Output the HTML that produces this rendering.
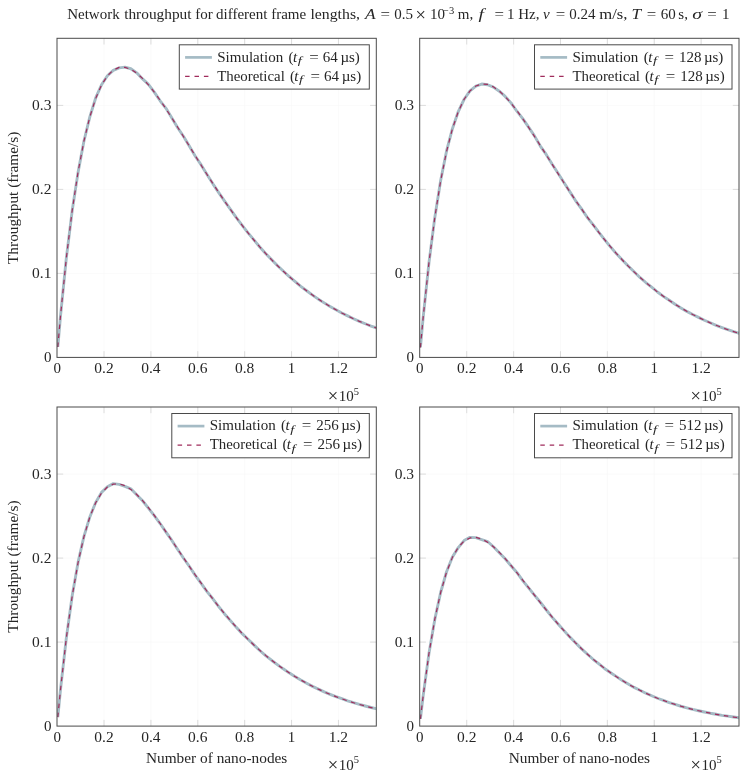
<!DOCTYPE html>
<html><head><meta charset="utf-8"><title>Network throughput</title>
<style>
html,body{margin:0;padding:0;background:#fff;}
body{width:746px;height:776px;overflow:hidden;}
svg{display:block;will-change:transform;}
text{font-family:"Liberation Serif",serif;font-size:15.00px;fill:#262626;}
.i{font-style:italic;}
.s{font-size:10.50px;}
.x{font-size:18.5px;}
</style></head><body>
<svg width="746" height="776" viewBox="0 0 746 776">
<rect width="746" height="776" fill="#fff"/>
<text y="19.40"><tspan x="67.20">Network</tspan> <tspan x="124.20" textLength="67.3" lengthAdjust="spacingAndGlyphs">throughput</tspan> <tspan x="195.20">for</tspan> <tspan x="216.00">different</tspan> <tspan x="271.20">frame</tspan> <tspan x="310.40" textLength="49.6" lengthAdjust="spacingAndGlyphs">lengths,</tspan> <tspan x="365.00" class="i" textLength="10.6" lengthAdjust="spacingAndGlyphs">A</tspan> <tspan x="380.50" textLength="9.5" lengthAdjust="spacingAndGlyphs">=</tspan> <tspan x="394.20">0.5</tspan> <tspan x="430.00">10</tspan> <tspan x="457.80">m,</tspan> <tspan x="494.50" textLength="9.5" lengthAdjust="spacingAndGlyphs">=</tspan> <tspan x="507.00">1</tspan> <tspan x="518.20">Hz,</tspan> <tspan x="543.00" class="i">v</tspan> <tspan x="555.70" textLength="9.5" lengthAdjust="spacingAndGlyphs">=</tspan> <tspan x="569.20">0.24</tspan> <tspan x="599.30" textLength="28.2" lengthAdjust="spacingAndGlyphs">m/s,</tspan> <tspan x="631.60" class="i" textLength="9.6" lengthAdjust="spacingAndGlyphs">T</tspan> <tspan x="646.70" textLength="9.5" lengthAdjust="spacingAndGlyphs">=</tspan> <tspan x="660.80">60</tspan> <tspan x="678.30">s,</tspan> <tspan x="692.30" class="i" textLength="9.8" lengthAdjust="spacingAndGlyphs">σ</tspan> <tspan x="707.20" textLength="9.5" lengthAdjust="spacingAndGlyphs">=</tspan> <tspan x="722.00">1</tspan> </text>
<text x="415.6" y="20.60" class="x">×</text>
<text x="443.0" y="13.80" class="s">−3</text>
<text x="478.4" y="19.40" class="i" textLength="5.4" lengthAdjust="spacingAndGlyphs">f</text>
<g>
<clipPath id="c00"><rect x="57.00" y="38.30" width="319.30" height="319.10"/></clipPath>
<line x1="104.03" y1="38.30" x2="104.03" y2="357.40" stroke="#f6f6f6" stroke-width="0.6"/>
<line x1="150.91" y1="38.30" x2="150.91" y2="357.40" stroke="#f6f6f6" stroke-width="0.6"/>
<line x1="197.79" y1="38.30" x2="197.79" y2="357.40" stroke="#f6f6f6" stroke-width="0.6"/>
<line x1="244.67" y1="38.30" x2="244.67" y2="357.40" stroke="#f6f6f6" stroke-width="0.6"/>
<line x1="291.55" y1="38.30" x2="291.55" y2="357.40" stroke="#f6f6f6" stroke-width="0.6"/>
<line x1="338.43" y1="38.30" x2="338.43" y2="357.40" stroke="#f6f6f6" stroke-width="0.6"/>
<line x1="57.00" y1="273.40" x2="376.30" y2="273.40" stroke="#f6f6f6" stroke-width="0.6"/>
<line x1="57.00" y1="189.40" x2="376.30" y2="189.40" stroke="#f6f6f6" stroke-width="0.6"/>
<line x1="57.00" y1="105.40" x2="376.30" y2="105.40" stroke="#f6f6f6" stroke-width="0.6"/>
<line x1="104.03" y1="357.40" x2="104.03" y2="351.20" stroke="#c6c6c6" stroke-width="0.6"/>
<line x1="104.03" y1="38.30" x2="104.03" y2="44.50" stroke="#c6c6c6" stroke-width="0.6"/>
<line x1="150.91" y1="357.40" x2="150.91" y2="351.20" stroke="#c6c6c6" stroke-width="0.6"/>
<line x1="150.91" y1="38.30" x2="150.91" y2="44.50" stroke="#c6c6c6" stroke-width="0.6"/>
<line x1="197.79" y1="357.40" x2="197.79" y2="351.20" stroke="#c6c6c6" stroke-width="0.6"/>
<line x1="197.79" y1="38.30" x2="197.79" y2="44.50" stroke="#c6c6c6" stroke-width="0.6"/>
<line x1="244.67" y1="357.40" x2="244.67" y2="351.20" stroke="#c6c6c6" stroke-width="0.6"/>
<line x1="244.67" y1="38.30" x2="244.67" y2="44.50" stroke="#c6c6c6" stroke-width="0.6"/>
<line x1="291.55" y1="357.40" x2="291.55" y2="351.20" stroke="#c6c6c6" stroke-width="0.6"/>
<line x1="291.55" y1="38.30" x2="291.55" y2="44.50" stroke="#c6c6c6" stroke-width="0.6"/>
<line x1="338.43" y1="357.40" x2="338.43" y2="351.20" stroke="#c6c6c6" stroke-width="0.6"/>
<line x1="338.43" y1="38.30" x2="338.43" y2="44.50" stroke="#c6c6c6" stroke-width="0.6"/>
<line x1="57.00" y1="273.40" x2="63.20" y2="273.40" stroke="#c6c6c6" stroke-width="0.6"/>
<line x1="376.30" y1="273.40" x2="370.10" y2="273.40" stroke="#c6c6c6" stroke-width="0.6"/>
<line x1="57.00" y1="189.40" x2="63.20" y2="189.40" stroke="#c6c6c6" stroke-width="0.6"/>
<line x1="376.30" y1="189.40" x2="370.10" y2="189.40" stroke="#c6c6c6" stroke-width="0.6"/>
<line x1="57.00" y1="105.40" x2="63.20" y2="105.40" stroke="#c6c6c6" stroke-width="0.6"/>
<line x1="376.30" y1="105.40" x2="370.10" y2="105.40" stroke="#c6c6c6" stroke-width="0.6"/>
<g clip-path="url(#c00)">
<path d="M57.82,346.97 L60.52,315.89 L66.38,257.62 L72.24,210.31 L78.10,172.11 L83.96,140.98 L89.82,116.85 L95.68,97.95 L101.54,84.73 L107.40,75.77 L113.26,70.33 L119.12,67.85 L124.98,67.14 L130.84,68.73 L136.70,72.84 L142.56,78.93 L148.42,84.43 L154.28,92.11 L160.14,100.80 L166.00,108.34 L171.86,118.07 L177.72,127.77 L183.58,136.46 L189.44,146.33 L195.30,156.19 L201.16,164.88 L207.02,174.53 L212.88,183.83 L218.74,192.64 L224.60,201.12 L230.46,209.30 L236.32,217.58 L242.18,225.29 L248.04,232.82 L253.90,239.92 L259.76,247.02 L265.62,253.51 L271.48,259.51 L277.34,265.55 L283.20,271.05 L289.06,276.46 L294.92,281.47 L300.78,286.36 L306.64,290.78 L312.50,295.07 L318.36,299.17 L324.22,302.87 L330.08,306.57 L335.94,309.75 L341.80,313.03 L347.66,315.92 L353.52,318.70 L359.38,321.35 L365.24,323.77 L371.10,326.05 L376.96,328.13 L382.82,330.16" fill="none" stroke="#a5bbc5" stroke-width="2.9" stroke-linejoin="round"/>
<path d="M57.82,346.97 L60.52,315.83 L66.38,257.65 L72.24,210.16 L78.10,171.68 L83.96,140.94 L89.82,116.85 L95.68,98.49 L101.54,85.03 L107.40,75.77 L113.26,70.08 L119.12,67.42 L124.98,67.31 L130.84,69.34 L136.70,73.13 L142.56,78.38 L148.42,84.81 L154.28,92.17 L160.14,100.27 L166.00,108.91 L171.86,117.96 L177.72,127.27 L183.58,136.74 L189.44,146.28 L195.30,155.79 L201.16,165.22 L207.02,174.51 L212.88,183.62 L218.74,192.51 L224.60,201.15 L230.46,209.51 L236.32,217.59 L242.18,225.37 L248.04,232.84 L253.90,240.00 L259.76,246.84 L265.62,253.37 L271.48,259.60 L277.34,265.52 L283.20,271.14 L289.06,276.47 L294.92,281.53 L300.78,286.31 L306.64,290.82 L312.50,295.09 L318.36,299.11 L324.22,302.90 L330.08,306.47 L335.94,309.82 L341.80,312.98 L347.66,315.94 L353.52,318.72 L359.38,321.33 L365.24,323.77 L371.10,326.06 L376.96,328.20 L382.82,330.21" fill="none" stroke="#a02c5c" stroke-width="1.2" stroke-dasharray="4.5 4.5" stroke-linejoin="round"/>
</g>
<rect x="57.00" y="38.30" width="319.30" height="319.10" fill="none" stroke="#4a4a4a" stroke-width="1"/>
<text x="57.15" y="373.30" text-anchor="middle">0</text>
<text x="104.03" y="373.30" text-anchor="middle" textLength="19.4" lengthAdjust="spacingAndGlyphs">0.2</text>
<text x="150.91" y="373.30" text-anchor="middle" textLength="19.4" lengthAdjust="spacingAndGlyphs">0.4</text>
<text x="197.79" y="373.30" text-anchor="middle" textLength="19.4" lengthAdjust="spacingAndGlyphs">0.6</text>
<text x="244.67" y="373.30" text-anchor="middle" textLength="19.4" lengthAdjust="spacingAndGlyphs">0.8</text>
<text x="291.55" y="373.30" text-anchor="middle">1</text>
<text x="338.43" y="373.30" text-anchor="middle" textLength="19.4" lengthAdjust="spacingAndGlyphs">1.2</text>
<text x="51.40" y="362.20" text-anchor="end">0</text>
<text x="51.40" y="278.20" text-anchor="end" textLength="19.4" lengthAdjust="spacingAndGlyphs">0.1</text>
<text x="51.40" y="194.20" text-anchor="end" textLength="19.4" lengthAdjust="spacingAndGlyphs">0.2</text>
<text x="51.40" y="110.20" text-anchor="end" textLength="19.4" lengthAdjust="spacingAndGlyphs">0.3</text>
<text x="327.70" y="402.40" class="x">×</text><text x="338.80" y="400.80">10</text><text x="353.70" y="394.60" class="s">5</text>
<rect x="179.30" y="44.80" width="190.00" height="44.30" fill="#fff" stroke="#4a4a4a" stroke-width="1"/>
<line x1="185.10" y1="57.40" x2="211.90" y2="57.40" stroke="#a5bbc5" stroke-width="2.7"/>
<line x1="185.10" y1="76.40" x2="211.90" y2="76.40" stroke="#a02c5c" stroke-width="1.2" stroke-dasharray="4.5 4.9"/>
<text y="61.70"><tspan x="217.20" textLength="66.0" lengthAdjust="spacingAndGlyphs">Simulation</tspan><tspan x="288.60">(</tspan><tspan x="293.00" class="i">t</tspan><tspan x="309.20" textLength="9.5" lengthAdjust="spacingAndGlyphs">=</tspan><tspan x="322.70">64</tspan><tspan x="340.40">µs)</tspan></text><text x="297.80" y="64.30" class="i s" textLength="4.0" lengthAdjust="spacingAndGlyphs">f</text>
<text y="80.50"><tspan x="217.20" textLength="67.6" lengthAdjust="spacingAndGlyphs">Theoretical</tspan><tspan x="289.90">(</tspan><tspan x="294.30" class="i">t</tspan><tspan x="310.50" textLength="9.5" lengthAdjust="spacingAndGlyphs">=</tspan><tspan x="324.00">64</tspan><tspan x="341.70">µs)</tspan></text><text x="299.10" y="83.10" class="i s" textLength="4.0" lengthAdjust="spacingAndGlyphs">f</text>
<text transform="translate(18.40,197.85) rotate(-90)" text-anchor="middle" textLength="132.3" lengthAdjust="spacingAndGlyphs">Throughput (frame/s)</text>
</g>
<g>
<clipPath id="c01"><rect x="419.70" y="38.30" width="319.30" height="319.10"/></clipPath>
<line x1="466.73" y1="38.30" x2="466.73" y2="357.40" stroke="#f6f6f6" stroke-width="0.6"/>
<line x1="513.61" y1="38.30" x2="513.61" y2="357.40" stroke="#f6f6f6" stroke-width="0.6"/>
<line x1="560.49" y1="38.30" x2="560.49" y2="357.40" stroke="#f6f6f6" stroke-width="0.6"/>
<line x1="607.37" y1="38.30" x2="607.37" y2="357.40" stroke="#f6f6f6" stroke-width="0.6"/>
<line x1="654.25" y1="38.30" x2="654.25" y2="357.40" stroke="#f6f6f6" stroke-width="0.6"/>
<line x1="701.13" y1="38.30" x2="701.13" y2="357.40" stroke="#f6f6f6" stroke-width="0.6"/>
<line x1="419.70" y1="273.40" x2="739.00" y2="273.40" stroke="#f6f6f6" stroke-width="0.6"/>
<line x1="419.70" y1="189.40" x2="739.00" y2="189.40" stroke="#f6f6f6" stroke-width="0.6"/>
<line x1="419.70" y1="105.40" x2="739.00" y2="105.40" stroke="#f6f6f6" stroke-width="0.6"/>
<line x1="466.73" y1="357.40" x2="466.73" y2="351.20" stroke="#c6c6c6" stroke-width="0.6"/>
<line x1="466.73" y1="38.30" x2="466.73" y2="44.50" stroke="#c6c6c6" stroke-width="0.6"/>
<line x1="513.61" y1="357.40" x2="513.61" y2="351.20" stroke="#c6c6c6" stroke-width="0.6"/>
<line x1="513.61" y1="38.30" x2="513.61" y2="44.50" stroke="#c6c6c6" stroke-width="0.6"/>
<line x1="560.49" y1="357.40" x2="560.49" y2="351.20" stroke="#c6c6c6" stroke-width="0.6"/>
<line x1="560.49" y1="38.30" x2="560.49" y2="44.50" stroke="#c6c6c6" stroke-width="0.6"/>
<line x1="607.37" y1="357.40" x2="607.37" y2="351.20" stroke="#c6c6c6" stroke-width="0.6"/>
<line x1="607.37" y1="38.30" x2="607.37" y2="44.50" stroke="#c6c6c6" stroke-width="0.6"/>
<line x1="654.25" y1="357.40" x2="654.25" y2="351.20" stroke="#c6c6c6" stroke-width="0.6"/>
<line x1="654.25" y1="38.30" x2="654.25" y2="44.50" stroke="#c6c6c6" stroke-width="0.6"/>
<line x1="701.13" y1="357.40" x2="701.13" y2="351.20" stroke="#c6c6c6" stroke-width="0.6"/>
<line x1="701.13" y1="38.30" x2="701.13" y2="44.50" stroke="#c6c6c6" stroke-width="0.6"/>
<line x1="419.70" y1="273.40" x2="425.90" y2="273.40" stroke="#c6c6c6" stroke-width="0.6"/>
<line x1="739.00" y1="273.40" x2="732.80" y2="273.40" stroke="#c6c6c6" stroke-width="0.6"/>
<line x1="419.70" y1="189.40" x2="425.90" y2="189.40" stroke="#c6c6c6" stroke-width="0.6"/>
<line x1="739.00" y1="189.40" x2="732.80" y2="189.40" stroke="#c6c6c6" stroke-width="0.6"/>
<line x1="419.70" y1="105.40" x2="425.90" y2="105.40" stroke="#c6c6c6" stroke-width="0.6"/>
<line x1="739.00" y1="105.40" x2="732.80" y2="105.40" stroke="#c6c6c6" stroke-width="0.6"/>
<g clip-path="url(#c01)">
<path d="M420.42,347.48 L423.12,317.94 L428.98,262.59 L434.84,217.18 L440.70,180.34 L446.56,150.95 L452.42,128.70 L458.28,111.51 L464.14,99.25 L470.00,90.84 L475.86,86.03 L481.72,84.01 L487.58,84.76 L493.44,87.16 L499.30,91.18 L505.16,96.44 L511.02,102.87 L516.88,111.22 L522.74,118.56 L528.60,127.06 L534.46,135.87 L540.32,146.06 L546.18,154.44 L552.04,163.96 L557.90,172.98 L563.76,182.27 L569.62,191.39 L575.48,200.54 L581.34,208.61 L587.20,217.31 L593.06,224.59 L598.92,232.46 L604.78,239.82 L610.64,247.06 L616.50,253.85 L622.36,259.91 L628.22,266.04 L634.08,271.74 L639.94,277.43 L645.80,282.53 L651.66,287.20 L657.52,292.00 L663.38,296.41 L669.24,300.27 L675.10,304.25 L680.96,307.95 L686.82,311.38 L692.68,314.47 L698.54,317.34 L704.40,320.22 L710.26,322.79 L716.12,325.31 L721.98,327.52 L727.84,329.65 L733.70,331.69 L739.56,333.49 L745.42,335.29" fill="none" stroke="#a5bbc5" stroke-width="2.9" stroke-linejoin="round"/>
<path d="M420.42,347.48 L423.12,317.84 L428.98,262.41 L434.84,217.16 L440.70,180.58 L446.56,151.47 L452.42,128.78 L458.28,111.63 L464.14,99.22 L470.00,90.87 L475.86,85.95 L481.72,83.95 L487.58,84.39 L493.44,86.87 L499.30,91.02 L505.16,96.53 L511.02,103.15 L516.88,110.62 L522.74,118.76 L528.60,127.39 L534.46,136.36 L540.32,145.54 L546.18,154.83 L552.04,164.14 L557.90,173.39 L563.76,182.52 L569.62,191.48 L575.48,200.23 L581.34,208.73 L587.20,216.97 L593.06,224.91 L598.92,232.56 L604.78,239.89 L610.64,246.91 L616.50,253.62 L622.36,260.00 L628.22,266.07 L634.08,271.84 L639.94,277.30 L645.80,282.47 L651.66,287.36 L657.52,291.97 L663.38,296.32 L669.24,300.41 L675.10,304.26 L680.96,307.87 L686.82,311.27 L692.68,314.45 L698.54,317.43 L704.40,320.23 L710.26,322.84 L716.12,325.28 L721.98,327.57 L727.84,329.70 L733.70,331.69 L739.56,333.54 L745.42,335.27" fill="none" stroke="#a02c5c" stroke-width="1.2" stroke-dasharray="4.5 4.5" stroke-linejoin="round"/>
</g>
<rect x="419.70" y="38.30" width="319.30" height="319.10" fill="none" stroke="#4a4a4a" stroke-width="1"/>
<text x="419.85" y="373.30" text-anchor="middle">0</text>
<text x="466.73" y="373.30" text-anchor="middle" textLength="19.4" lengthAdjust="spacingAndGlyphs">0.2</text>
<text x="513.61" y="373.30" text-anchor="middle" textLength="19.4" lengthAdjust="spacingAndGlyphs">0.4</text>
<text x="560.49" y="373.30" text-anchor="middle" textLength="19.4" lengthAdjust="spacingAndGlyphs">0.6</text>
<text x="607.37" y="373.30" text-anchor="middle" textLength="19.4" lengthAdjust="spacingAndGlyphs">0.8</text>
<text x="654.25" y="373.30" text-anchor="middle">1</text>
<text x="701.13" y="373.30" text-anchor="middle" textLength="19.4" lengthAdjust="spacingAndGlyphs">1.2</text>
<text x="414.10" y="362.20" text-anchor="end">0</text>
<text x="414.10" y="278.20" text-anchor="end" textLength="19.4" lengthAdjust="spacingAndGlyphs">0.1</text>
<text x="414.10" y="194.20" text-anchor="end" textLength="19.4" lengthAdjust="spacingAndGlyphs">0.2</text>
<text x="414.10" y="110.20" text-anchor="end" textLength="19.4" lengthAdjust="spacingAndGlyphs">0.3</text>
<text x="690.40" y="402.40" class="x">×</text><text x="701.50" y="400.80">10</text><text x="716.40" y="394.60" class="s">5</text>
<rect x="534.50" y="44.80" width="197.50" height="44.30" fill="#fff" stroke="#4a4a4a" stroke-width="1"/>
<line x1="540.30" y1="57.40" x2="567.10" y2="57.40" stroke="#a5bbc5" stroke-width="2.7"/>
<line x1="540.30" y1="76.40" x2="567.10" y2="76.40" stroke="#a02c5c" stroke-width="1.2" stroke-dasharray="4.5 4.9"/>
<text y="61.70"><tspan x="572.40" textLength="66.0" lengthAdjust="spacingAndGlyphs">Simulation</tspan><tspan x="643.80">(</tspan><tspan x="648.20" class="i">t</tspan><tspan x="664.40" textLength="9.5" lengthAdjust="spacingAndGlyphs">=</tspan><tspan x="678.90">128</tspan><tspan x="703.90">µs)</tspan></text><text x="653.00" y="64.30" class="i s" textLength="4.0" lengthAdjust="spacingAndGlyphs">f</text>
<text y="80.50"><tspan x="572.40" textLength="67.6" lengthAdjust="spacingAndGlyphs">Theoretical</tspan><tspan x="645.10">(</tspan><tspan x="649.50" class="i">t</tspan><tspan x="665.70" textLength="9.5" lengthAdjust="spacingAndGlyphs">=</tspan><tspan x="680.20">128</tspan><tspan x="705.20">µs)</tspan></text><text x="654.30" y="83.10" class="i s" textLength="4.0" lengthAdjust="spacingAndGlyphs">f</text>
</g>
<g>
<clipPath id="c10"><rect x="57.00" y="407.00" width="319.30" height="319.10"/></clipPath>
<line x1="104.03" y1="407.00" x2="104.03" y2="726.10" stroke="#f6f6f6" stroke-width="0.6"/>
<line x1="150.91" y1="407.00" x2="150.91" y2="726.10" stroke="#f6f6f6" stroke-width="0.6"/>
<line x1="197.79" y1="407.00" x2="197.79" y2="726.10" stroke="#f6f6f6" stroke-width="0.6"/>
<line x1="244.67" y1="407.00" x2="244.67" y2="726.10" stroke="#f6f6f6" stroke-width="0.6"/>
<line x1="291.55" y1="407.00" x2="291.55" y2="726.10" stroke="#f6f6f6" stroke-width="0.6"/>
<line x1="338.43" y1="407.00" x2="338.43" y2="726.10" stroke="#f6f6f6" stroke-width="0.6"/>
<line x1="57.00" y1="642.10" x2="376.30" y2="642.10" stroke="#f6f6f6" stroke-width="0.6"/>
<line x1="57.00" y1="558.10" x2="376.30" y2="558.10" stroke="#f6f6f6" stroke-width="0.6"/>
<line x1="57.00" y1="474.10" x2="376.30" y2="474.10" stroke="#f6f6f6" stroke-width="0.6"/>
<line x1="104.03" y1="726.10" x2="104.03" y2="719.90" stroke="#c6c6c6" stroke-width="0.6"/>
<line x1="104.03" y1="407.00" x2="104.03" y2="413.20" stroke="#c6c6c6" stroke-width="0.6"/>
<line x1="150.91" y1="726.10" x2="150.91" y2="719.90" stroke="#c6c6c6" stroke-width="0.6"/>
<line x1="150.91" y1="407.00" x2="150.91" y2="413.20" stroke="#c6c6c6" stroke-width="0.6"/>
<line x1="197.79" y1="726.10" x2="197.79" y2="719.90" stroke="#c6c6c6" stroke-width="0.6"/>
<line x1="197.79" y1="407.00" x2="197.79" y2="413.20" stroke="#c6c6c6" stroke-width="0.6"/>
<line x1="244.67" y1="726.10" x2="244.67" y2="719.90" stroke="#c6c6c6" stroke-width="0.6"/>
<line x1="244.67" y1="407.00" x2="244.67" y2="413.20" stroke="#c6c6c6" stroke-width="0.6"/>
<line x1="291.55" y1="726.10" x2="291.55" y2="719.90" stroke="#c6c6c6" stroke-width="0.6"/>
<line x1="291.55" y1="407.00" x2="291.55" y2="413.20" stroke="#c6c6c6" stroke-width="0.6"/>
<line x1="338.43" y1="726.10" x2="338.43" y2="719.90" stroke="#c6c6c6" stroke-width="0.6"/>
<line x1="338.43" y1="407.00" x2="338.43" y2="413.20" stroke="#c6c6c6" stroke-width="0.6"/>
<line x1="57.00" y1="642.10" x2="63.20" y2="642.10" stroke="#c6c6c6" stroke-width="0.6"/>
<line x1="376.30" y1="642.10" x2="370.10" y2="642.10" stroke="#c6c6c6" stroke-width="0.6"/>
<line x1="57.00" y1="558.10" x2="63.20" y2="558.10" stroke="#c6c6c6" stroke-width="0.6"/>
<line x1="376.30" y1="558.10" x2="370.10" y2="558.10" stroke="#c6c6c6" stroke-width="0.6"/>
<line x1="57.00" y1="474.10" x2="63.20" y2="474.10" stroke="#c6c6c6" stroke-width="0.6"/>
<line x1="376.30" y1="474.10" x2="370.10" y2="474.10" stroke="#c6c6c6" stroke-width="0.6"/>
<g clip-path="url(#c10)">
<path d="M57.82,717.11 L60.52,689.47 L66.38,637.58 L72.24,595.45 L78.10,562.15 L83.96,536.31 L89.82,516.92 L95.68,502.42 L101.54,492.40 L107.40,486.74 L113.26,483.64 L119.12,484.39 L124.98,486.39 L130.84,488.79 L136.70,494.75 L142.56,500.75 L148.42,508.18 L154.28,515.55 L160.14,523.54 L166.00,532.15 L171.86,540.43 L177.72,549.44 L183.58,558.24 L189.44,566.49 L195.30,575.35 L201.16,583.47 L207.02,591.62 L212.88,598.77 L218.74,606.51 L224.60,613.97 L230.46,620.65 L236.32,627.34 L242.18,633.64 L248.04,639.18 L253.90,644.86 L259.76,650.48 L265.62,655.53 L271.48,660.22 L277.34,664.56 L283.20,668.82 L289.06,672.83 L294.92,676.51 L300.78,679.99 L306.64,683.25 L312.50,686.40 L318.36,689.11 L324.22,691.88 L330.08,694.37 L335.94,696.72 L341.80,698.74 L347.66,700.85 L353.52,702.72 L359.38,704.44 L365.24,706.01 L371.10,707.51 L376.96,708.93 L382.82,710.28" fill="none" stroke="#a5bbc5" stroke-width="2.9" stroke-linejoin="round"/>
<path d="M57.82,717.11 L60.52,689.47 L66.38,637.58 L72.24,595.73 L78.10,562.49 L83.96,536.62 L89.82,517.02 L95.68,502.74 L101.54,492.96 L107.40,486.96 L113.26,484.10 L119.12,483.86 L124.98,485.77 L130.84,489.42 L136.70,494.48 L142.56,500.65 L148.42,507.68 L154.28,515.35 L160.14,523.48 L166.00,531.93 L171.86,540.55 L177.72,549.25 L183.58,557.93 L189.44,566.52 L195.30,574.97 L201.16,583.22 L207.02,591.25 L212.88,599.01 L218.74,606.49 L224.60,613.68 L230.46,620.56 L236.32,627.13 L242.18,633.39 L248.04,639.34 L253.90,644.98 L259.76,650.32 L265.62,655.37 L271.48,660.13 L277.34,664.61 L283.20,668.83 L289.06,672.79 L294.92,676.51 L300.78,680.00 L306.64,683.26 L312.50,686.32 L318.36,689.17 L324.22,691.84 L330.08,694.33 L335.94,696.65 L341.80,698.81 L347.66,700.82 L353.52,702.70 L359.38,704.44 L365.24,706.06 L371.10,707.56 L376.96,708.96 L382.82,710.25" fill="none" stroke="#a02c5c" stroke-width="1.2" stroke-dasharray="4.5 4.5" stroke-linejoin="round"/>
</g>
<rect x="57.00" y="407.00" width="319.30" height="319.10" fill="none" stroke="#4a4a4a" stroke-width="1"/>
<text x="57.15" y="742.00" text-anchor="middle">0</text>
<text x="104.03" y="742.00" text-anchor="middle" textLength="19.4" lengthAdjust="spacingAndGlyphs">0.2</text>
<text x="150.91" y="742.00" text-anchor="middle" textLength="19.4" lengthAdjust="spacingAndGlyphs">0.4</text>
<text x="197.79" y="742.00" text-anchor="middle" textLength="19.4" lengthAdjust="spacingAndGlyphs">0.6</text>
<text x="244.67" y="742.00" text-anchor="middle" textLength="19.4" lengthAdjust="spacingAndGlyphs">0.8</text>
<text x="291.55" y="742.00" text-anchor="middle">1</text>
<text x="338.43" y="742.00" text-anchor="middle" textLength="19.4" lengthAdjust="spacingAndGlyphs">1.2</text>
<text x="51.40" y="730.90" text-anchor="end">0</text>
<text x="51.40" y="646.90" text-anchor="end" textLength="19.4" lengthAdjust="spacingAndGlyphs">0.1</text>
<text x="51.40" y="562.90" text-anchor="end" textLength="19.4" lengthAdjust="spacingAndGlyphs">0.2</text>
<text x="51.40" y="478.90" text-anchor="end" textLength="19.4" lengthAdjust="spacingAndGlyphs">0.3</text>
<text x="327.70" y="771.10" class="x">×</text><text x="338.80" y="769.50">10</text><text x="353.70" y="763.30" class="s">5</text>
<rect x="171.80" y="413.50" width="197.50" height="44.30" fill="#fff" stroke="#4a4a4a" stroke-width="1"/>
<line x1="177.60" y1="426.10" x2="204.40" y2="426.10" stroke="#a5bbc5" stroke-width="2.7"/>
<line x1="177.60" y1="445.10" x2="204.40" y2="445.10" stroke="#a02c5c" stroke-width="1.2" stroke-dasharray="4.5 4.9"/>
<text y="430.40"><tspan x="209.70" textLength="66.0" lengthAdjust="spacingAndGlyphs">Simulation</tspan><tspan x="281.10">(</tspan><tspan x="285.50" class="i">t</tspan><tspan x="301.70" textLength="9.5" lengthAdjust="spacingAndGlyphs">=</tspan><tspan x="316.20">256</tspan><tspan x="341.20">µs)</tspan></text><text x="290.30" y="433.00" class="i s" textLength="4.0" lengthAdjust="spacingAndGlyphs">f</text>
<text y="449.20"><tspan x="209.70" textLength="67.6" lengthAdjust="spacingAndGlyphs">Theoretical</tspan><tspan x="282.40">(</tspan><tspan x="286.80" class="i">t</tspan><tspan x="303.00" textLength="9.5" lengthAdjust="spacingAndGlyphs">=</tspan><tspan x="317.50">256</tspan><tspan x="342.50">µs)</tspan></text><text x="291.60" y="451.80" class="i s" textLength="4.0" lengthAdjust="spacingAndGlyphs">f</text>
<text transform="translate(18.40,566.55) rotate(-90)" text-anchor="middle" textLength="132.3" lengthAdjust="spacingAndGlyphs">Throughput (frame/s)</text>
<text x="216.65" y="762.90" text-anchor="middle" textLength="141.4" lengthAdjust="spacingAndGlyphs">Number of nano-nodes</text>
</g>
<g>
<clipPath id="c11"><rect x="419.70" y="407.00" width="319.30" height="319.10"/></clipPath>
<line x1="466.73" y1="407.00" x2="466.73" y2="726.10" stroke="#f6f6f6" stroke-width="0.6"/>
<line x1="513.61" y1="407.00" x2="513.61" y2="726.10" stroke="#f6f6f6" stroke-width="0.6"/>
<line x1="560.49" y1="407.00" x2="560.49" y2="726.10" stroke="#f6f6f6" stroke-width="0.6"/>
<line x1="607.37" y1="407.00" x2="607.37" y2="726.10" stroke="#f6f6f6" stroke-width="0.6"/>
<line x1="654.25" y1="407.00" x2="654.25" y2="726.10" stroke="#f6f6f6" stroke-width="0.6"/>
<line x1="701.13" y1="407.00" x2="701.13" y2="726.10" stroke="#f6f6f6" stroke-width="0.6"/>
<line x1="419.70" y1="642.10" x2="739.00" y2="642.10" stroke="#f6f6f6" stroke-width="0.6"/>
<line x1="419.70" y1="558.10" x2="739.00" y2="558.10" stroke="#f6f6f6" stroke-width="0.6"/>
<line x1="419.70" y1="474.10" x2="739.00" y2="474.10" stroke="#f6f6f6" stroke-width="0.6"/>
<line x1="466.73" y1="726.10" x2="466.73" y2="719.90" stroke="#c6c6c6" stroke-width="0.6"/>
<line x1="466.73" y1="407.00" x2="466.73" y2="413.20" stroke="#c6c6c6" stroke-width="0.6"/>
<line x1="513.61" y1="726.10" x2="513.61" y2="719.90" stroke="#c6c6c6" stroke-width="0.6"/>
<line x1="513.61" y1="407.00" x2="513.61" y2="413.20" stroke="#c6c6c6" stroke-width="0.6"/>
<line x1="560.49" y1="726.10" x2="560.49" y2="719.90" stroke="#c6c6c6" stroke-width="0.6"/>
<line x1="560.49" y1="407.00" x2="560.49" y2="413.20" stroke="#c6c6c6" stroke-width="0.6"/>
<line x1="607.37" y1="726.10" x2="607.37" y2="719.90" stroke="#c6c6c6" stroke-width="0.6"/>
<line x1="607.37" y1="407.00" x2="607.37" y2="413.20" stroke="#c6c6c6" stroke-width="0.6"/>
<line x1="654.25" y1="726.10" x2="654.25" y2="719.90" stroke="#c6c6c6" stroke-width="0.6"/>
<line x1="654.25" y1="407.00" x2="654.25" y2="413.20" stroke="#c6c6c6" stroke-width="0.6"/>
<line x1="701.13" y1="726.10" x2="701.13" y2="719.90" stroke="#c6c6c6" stroke-width="0.6"/>
<line x1="701.13" y1="407.00" x2="701.13" y2="413.20" stroke="#c6c6c6" stroke-width="0.6"/>
<line x1="419.70" y1="642.10" x2="425.90" y2="642.10" stroke="#c6c6c6" stroke-width="0.6"/>
<line x1="739.00" y1="642.10" x2="732.80" y2="642.10" stroke="#c6c6c6" stroke-width="0.6"/>
<line x1="419.70" y1="558.10" x2="425.90" y2="558.10" stroke="#c6c6c6" stroke-width="0.6"/>
<line x1="739.00" y1="558.10" x2="732.80" y2="558.10" stroke="#c6c6c6" stroke-width="0.6"/>
<line x1="419.70" y1="474.10" x2="425.90" y2="474.10" stroke="#c6c6c6" stroke-width="0.6"/>
<line x1="739.00" y1="474.10" x2="732.80" y2="474.10" stroke="#c6c6c6" stroke-width="0.6"/>
<g clip-path="url(#c11)">
<path d="M420.42,718.93 L423.12,696.11 L428.98,653.34 L434.84,619.17 L440.70,592.27 L446.56,571.77 L452.42,557.00 L458.28,547.63 L464.14,540.57 L470.00,537.34 L475.86,537.65 L481.72,539.59 L487.58,541.52 L493.44,546.76 L499.30,552.70 L505.16,558.75 L511.02,565.72 L516.88,572.43 L522.74,580.54 L528.60,587.83 L534.46,595.17 L540.32,602.24 L546.18,609.75 L552.04,617.10 L557.90,623.78 L563.76,630.39 L569.62,636.85 L575.48,642.82 L581.34,648.64 L587.20,654.05 L593.06,659.29 L598.92,663.99 L604.78,668.71 L610.64,672.74 L616.50,676.67 L622.36,680.49 L628.22,683.94 L634.08,687.41 L639.94,690.22 L645.80,693.19 L651.66,695.78 L657.52,698.26 L663.38,700.38 L669.24,702.58 L675.10,704.42 L680.96,706.25 L686.82,707.82 L692.68,709.41 L698.54,710.73 L704.40,712.00 L710.26,713.20 L716.12,714.26 L721.98,715.32 L727.84,716.18 L733.70,717.04 L739.56,717.85 L745.42,718.55" fill="none" stroke="#a5bbc5" stroke-width="2.9" stroke-linejoin="round"/>
<path d="M420.42,718.93 L423.12,696.22 L428.98,653.27 L434.84,618.97 L440.70,592.28 L446.56,572.08 L452.42,557.38 L458.28,547.28 L464.14,541.02 L470.00,537.92 L475.86,537.39 L481.72,538.96 L487.58,542.20 L493.44,546.74 L499.30,552.30 L505.16,558.61 L511.02,565.45 L516.88,572.66 L522.74,580.09 L528.60,587.61 L534.46,595.13 L540.32,602.57 L546.18,609.86 L552.04,616.96 L557.90,623.83 L563.76,630.44 L569.62,636.77 L575.48,642.81 L581.34,648.55 L587.20,653.99 L593.06,659.13 L598.92,663.98 L604.78,668.54 L610.64,672.81 L616.50,676.82 L622.36,680.56 L628.22,684.06 L634.08,687.31 L639.94,690.34 L645.80,693.16 L651.66,695.77 L657.52,698.20 L663.38,700.44 L669.24,702.52 L675.10,704.44 L680.96,706.21 L686.82,707.85 L692.68,709.36 L698.54,710.75 L704.40,712.03 L710.26,713.21 L716.12,714.30 L721.98,715.29 L727.84,716.21 L733.70,717.05 L739.56,717.82 L745.42,718.53" fill="none" stroke="#a02c5c" stroke-width="1.2" stroke-dasharray="4.5 4.5" stroke-linejoin="round"/>
</g>
<rect x="419.70" y="407.00" width="319.30" height="319.10" fill="none" stroke="#4a4a4a" stroke-width="1"/>
<text x="419.85" y="742.00" text-anchor="middle">0</text>
<text x="466.73" y="742.00" text-anchor="middle" textLength="19.4" lengthAdjust="spacingAndGlyphs">0.2</text>
<text x="513.61" y="742.00" text-anchor="middle" textLength="19.4" lengthAdjust="spacingAndGlyphs">0.4</text>
<text x="560.49" y="742.00" text-anchor="middle" textLength="19.4" lengthAdjust="spacingAndGlyphs">0.6</text>
<text x="607.37" y="742.00" text-anchor="middle" textLength="19.4" lengthAdjust="spacingAndGlyphs">0.8</text>
<text x="654.25" y="742.00" text-anchor="middle">1</text>
<text x="701.13" y="742.00" text-anchor="middle" textLength="19.4" lengthAdjust="spacingAndGlyphs">1.2</text>
<text x="414.10" y="730.90" text-anchor="end">0</text>
<text x="414.10" y="646.90" text-anchor="end" textLength="19.4" lengthAdjust="spacingAndGlyphs">0.1</text>
<text x="414.10" y="562.90" text-anchor="end" textLength="19.4" lengthAdjust="spacingAndGlyphs">0.2</text>
<text x="414.10" y="478.90" text-anchor="end" textLength="19.4" lengthAdjust="spacingAndGlyphs">0.3</text>
<text x="690.40" y="771.10" class="x">×</text><text x="701.50" y="769.50">10</text><text x="716.40" y="763.30" class="s">5</text>
<rect x="534.50" y="413.50" width="197.50" height="44.30" fill="#fff" stroke="#4a4a4a" stroke-width="1"/>
<line x1="540.30" y1="426.10" x2="567.10" y2="426.10" stroke="#a5bbc5" stroke-width="2.7"/>
<line x1="540.30" y1="445.10" x2="567.10" y2="445.10" stroke="#a02c5c" stroke-width="1.2" stroke-dasharray="4.5 4.9"/>
<text y="430.40"><tspan x="572.40" textLength="66.0" lengthAdjust="spacingAndGlyphs">Simulation</tspan><tspan x="643.80">(</tspan><tspan x="648.20" class="i">t</tspan><tspan x="664.40" textLength="9.5" lengthAdjust="spacingAndGlyphs">=</tspan><tspan x="678.90">512</tspan><tspan x="703.90">µs)</tspan></text><text x="653.00" y="433.00" class="i s" textLength="4.0" lengthAdjust="spacingAndGlyphs">f</text>
<text y="449.20"><tspan x="572.40" textLength="67.6" lengthAdjust="spacingAndGlyphs">Theoretical</tspan><tspan x="645.10">(</tspan><tspan x="649.50" class="i">t</tspan><tspan x="665.70" textLength="9.5" lengthAdjust="spacingAndGlyphs">=</tspan><tspan x="680.20">512</tspan><tspan x="705.20">µs)</tspan></text><text x="654.30" y="451.80" class="i s" textLength="4.0" lengthAdjust="spacingAndGlyphs">f</text>
<text x="579.35" y="762.90" text-anchor="middle" textLength="141.4" lengthAdjust="spacingAndGlyphs">Number of nano-nodes</text>
</g>
</svg>
</body></html>
